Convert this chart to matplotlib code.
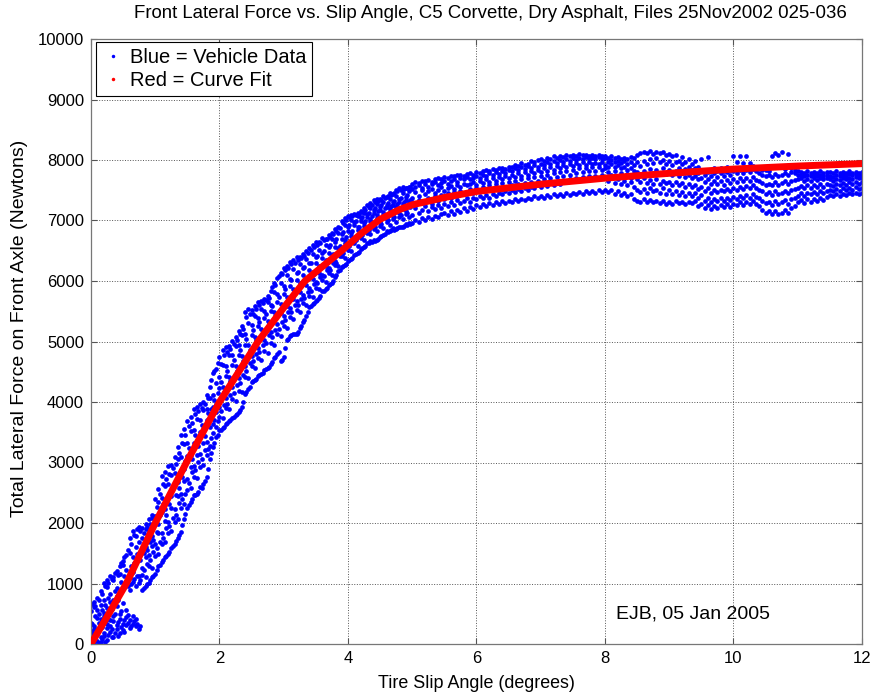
"""
Front lateral force vs. slip angle, C5 Corvette on dry asphalt.

Blue dots are the measured vehicle data, the red band is the curve fit.
"""

import matplotlib
matplotlib.use("Agg")
import matplotlib.pyplot as plt
from matplotlib.lines import Line2D

plt.rcParams["font.family"] = ["Liberation Sans", "DejaVu Sans"]

# ── Vehicle data: (slip deg, force N, force N, ...) ──
rise_rows = [
    (0.00, 0, 45, 130, 210, 350, 540),
    (0.05, 15, 95, 240, 300, 610, 700),
    (0.10, 50, 160, 200, 430, 560, 760),
    (0.15, 30, 120, 350, 420, 650, 880),
    (0.20, 140, 190, 460, 520, 720, 1010),
    (0.25, 60, 260, 330, 590, 940, 1060),
    (0.30, 200, 290, 400, 690, 820, 1130),
    (0.35, 120, 380, 460, 730, 1050, 1100),
    (0.40, 250, 310, 620, 800, 930, 1210),
    (0.45, 180, 420, 500, 870, 1150, 1290),
    (0.50, 230, 330, 680, 920, 1300, 1380),
    (0.55, 310, 440, 560, 1010, 1220, 1470),
    (0.60, 260, 390, 900, 1090, 1510, 1760),
    (0.65, 330, 470, 1020, 1190, 1440, 1870),
    (0.70, 290, 410, 960, 1380, 1600, 1790),
    (0.75, 250, 1010, 1120, 1500, 1680, 1930),
    (0.80, 890, 1140, 1260, 1580, 1760, 1920),
    (0.85, 960, 1100, 1430, 1610, 1900, 1980),
    (0.90, 1010, 1290, 1470, 1760, 1850, 2060),
    (0.95, 1110, 1250, 1620, 1790, 2080, 2140),
    (1.00, 1150, 1460, 1650, 1980, 2110, 2390),
    (1.05, 1290, 1480, 1840, 1990, 2340, 2560),
    (1.10, 1360, 1650, 1830, 2190, 2420, 2770),
    (1.15, 1440, 1680, 2040, 2230, 2610, 2850),
    (1.20, 1480, 1830, 2020, 2420, 2640, 2940),
    (1.25, 1580, 1860, 2240, 2440, 2800, 2960),
    (1.30, 1650, 2020, 2230, 2640, 2830, 3090),
    (1.35, 1760, 2070, 2450, 2670, 3060, 3250),
    (1.40, 1850, 2250, 2480, 2870, 3090, 3460),
    (1.45, 2060, 2320, 2690, 2900, 3300, 3550),
    (1.50, 2250, 2540, 2720, 3100, 3330, 3690),
    (1.55, 2350, 2580, 2930, 3120, 3520, 3760),
    (1.60, 2470, 2760, 2950, 3320, 3540, 3880),
    (1.65, 2480, 2740, 3130, 3350, 3720, 3910),
    (1.70, 2600, 2920, 3140, 3510, 3700, 3960),
    (1.75, 2650, 2960, 3330, 3520, 3870, 4000),
    (1.80, 2760, 3120, 3340, 3700, 3890, 4110),
    (1.85, 3050, 3270, 3580, 3720, 4060, 4250),
    (1.90, 3260, 3490, 3630, 3920, 4120, 4480),
    (1.95, 3420, 3580, 3840, 3970, 4310, 4550),
]

rise_extra_rows = [
    (0.02, 20, 180, 330, 660),
    (0.07, 70, 250, 470, 620),
    (0.12, 10, 340, 500, 730),
    (0.17, 90, 280, 560, 820),
    (0.22, 40, 370, 640, 960),
    (0.27, 150, 420, 760, 1010),
    (0.32, 110, 240, 580, 1070),
    (0.37, 190, 500, 880, 1170),
    (0.42, 140, 360, 720, 1140),
    (0.47, 280, 540, 1020, 1340),
    (0.52, 200, 400, 1120, 1440),
    (0.57, 350, 480, 960, 1560),
    (0.62, 300, 1000, 1290, 1650),
    (0.67, 380, 1080, 1340, 1800),
    (0.72, 330, 1120, 1490, 1900),
    (0.77, 290, 1050, 1390, 1860),
    (0.82, 930, 1220, 1500, 1840),
    (0.87, 990, 1330, 1560, 1930),
    (0.92, 1060, 1390, 1690, 1990),
    (0.97, 1130, 1520, 1720, 2100),
    (1.02, 1230, 1590, 1850, 2270),
    (1.07, 1310, 1690, 2130, 2480),
    (1.12, 1390, 1760, 2310, 2650),
    (1.17, 1460, 1910, 2140, 2730),
    (1.22, 1520, 1950, 2310, 2810),
    (1.27, 1620, 2090, 2590, 2910),
    (1.32, 1700, 2130, 2470, 2980),
    (1.37, 1800, 2330, 2580, 3150),
    (1.42, 1960, 2400, 2760, 3330),
    (1.47, 2150, 2480, 3020, 3460),
    (1.52, 2300, 2660, 3240, 3600),
    (1.57, 2400, 2840, 3060, 3650),
    (1.62, 2460, 2880, 3450, 3800),
    (1.67, 2520, 3010, 3280, 3850),
    (1.72, 2580, 3050, 3620, 3900),
    (1.77, 2700, 3200, 3440, 3960),
    (1.82, 2900, 3230, 3820, 4060),
    (1.87, 3150, 3400, 3880, 4370),
    (1.92, 3330, 3710, 4030, 4520),
    (1.97, 3460, 3690, 4150, 4640),
]

knee_rows = [
    (2.00, 3530, 3760, 3910, 4230, 4420, 4750),
    (2.05, 3570, 3730, 4080, 4250, 4610, 4860),
    (2.10, 3640, 3900, 4060, 4430, 4600, 4910),
    (2.15, 3680, 3880, 4250, 4420, 4780, 4930),
    (2.20, 3730, 4050, 4240, 4610, 4770, 5010),
    (2.25, 3790, 4020, 4420, 4600, 4930, 5080),
    (2.30, 3840, 4190, 4400, 4770, 4940, 5170),
    (2.35, 3920, 4170, 4580, 4760, 5100, 5250),
    (2.40, 4130, 4420, 4590, 4950, 5130, 5480),
    (2.45, 4220, 4400, 4780, 4940, 5310, 5530),
    (2.50, 4330, 4590, 4760, 5110, 5270, 5520),
    (2.55, 4360, 4560, 4930, 5080, 5420, 5580),
    (2.60, 4430, 4730, 4900, 5250, 5390, 5650),
    (2.65, 4460, 4700, 5060, 5210, 5540, 5670),
    (2.70, 4530, 4850, 5020, 5390, 5510, 5710),
    (2.75, 4560, 4810, 5200, 5340, 5650, 5760),
    (2.80, 4630, 4980, 5150, 5500, 5610, 5830),
    (2.85, 4720, 4950, 5340, 5480, 5810, 5970),
    (2.90, 4790, 5120, 5290, 5650, 5780, 6050),
    (2.95, 4670, 5090, 5470, 5620, 5970, 6140),
    (3.00, 4740, 5260, 5420, 5790, 5920, 6210),
    (3.05, 5020, 5230, 5590, 5740, 6100, 6240),
    (3.10, 5090, 5400, 5550, 5910, 6040, 6310),
    (3.15, 5120, 5370, 5710, 5860, 6200, 6340),
    (3.20, 5130, 5520, 5670, 6010, 6130, 6390),
    (3.25, 5220, 5480, 5820, 5960, 6280, 6400),
    (3.30, 5330, 5630, 5770, 6100, 6210, 6450),
    (3.35, 5420, 5600, 5930, 6050, 6360, 6490),
    (3.40, 5570, 5760, 5880, 6190, 6300, 6550),
    (3.45, 5620, 5730, 6040, 6150, 6450, 6590),
    (3.50, 5670, 5890, 5990, 6290, 6390, 6650),
    (3.55, 5720, 5860, 6140, 6250, 6520, 6640),
    (3.60, 5830, 6020, 6100, 6380, 6470, 6710),
    (3.65, 5860, 5990, 6240, 6340, 6600, 6700),
    (3.70, 5930, 6140, 6210, 6470, 6560, 6760),
    (3.75, 5960, 6100, 6350, 6430, 6700, 6790),
    (3.80, 6070, 6260, 6330, 6570, 6650, 6860),
    (3.85, 6160, 6250, 6480, 6550, 6800, 6890),
    (3.90, 6230, 6410, 6480, 6700, 6780, 6990),
    (3.95, 6260, 6380, 6620, 6680, 6930, 7040),
    (4.00, 6330, 6520, 6600, 6830, 6890, 7080),
    (4.05, 6360, 6490, 6740, 6800, 7010, 7090),
    (4.10, 6430, 6620, 6700, 6920, 6970, 7110),
    (4.15, 6460, 6580, 6840, 6890, 7070, 7120),
    (4.20, 6530, 6710, 6790, 6990, 7040, 7160),
    (4.25, 6560, 6680, 6910, 6960, 7130, 7200),
    (4.30, 6630, 6800, 6870, 7060, 7110, 7250),
    (4.35, 6660, 6770, 6990, 7030, 7210, 7290),
    (4.40, 6670, 6860, 6930, 7120, 7180, 7340),
    (4.45, 6680, 6820, 7040, 7090, 7270, 7350),
    (4.50, 6730, 6910, 6980, 7170, 7220, 7360),
    (4.55, 6760, 6870, 7090, 7140, 7310, 7400),
    (4.60, 6820, 6970, 7030, 7220, 7260, 7390),
    (4.65, 6830, 6930, 7140, 7190, 7360, 7450),
    (4.70, 6870, 7020, 7080, 7260, 7300, 7440),
    (4.75, 6860, 6980, 7180, 7230, 7400, 7500),
    (4.80, 6900, 7060, 7120, 7310, 7350, 7540),
    (4.85, 6900, 7020, 7220, 7270, 7450, 7550),
    (4.90, 6940, 7100, 7160, 7340, 7390, 7540),
    (4.95, 6960, 7060, 7260, 7310, 7480, 7560),
]

knee_extra_rows = [
    (2.02, 3540, 3850, 4330, 4620),
    (2.07, 3590, 3950, 4170, 4780),
    (2.12, 3650, 3970, 4520, 4820),
    (2.17, 3700, 4120, 4350, 4880),
    (2.22, 3750, 4150, 4690, 4960),
    (2.27, 3800, 4280, 4520, 5020),
    (2.32, 3870, 4310, 4860, 5120),
    (2.37, 4000, 4450, 4680, 5200),
    (2.42, 4160, 4510, 5040, 5400),
    (2.47, 4250, 4640, 4860, 5460),
    (2.52, 4340, 4680, 5190, 5450),
    (2.57, 4380, 4800, 5020, 5540),
    (2.62, 4440, 4830, 5330, 5600),
    (2.67, 4480, 4950, 5170, 5630),
    (2.72, 4540, 4980, 5460, 5680),
    (2.77, 4580, 5100, 5300, 5720),
    (2.82, 4660, 5080, 5580, 5900),
    (2.87, 4740, 5190, 5420, 5940),
    (2.92, 4820, 5200, 5730, 6080),
    (2.97, 4700, 5330, 5560, 6120),
    (3.02, 4900, 5360, 5870, 6180),
    (3.07, 5040, 5480, 5680, 6220),
    (3.12, 5100, 5480, 6020, 6280),
    (3.17, 5120, 5610, 5800, 6300),
    (3.22, 5160, 5610, 6150, 6350),
    (3.27, 5260, 5700, 5920, 6380),
    (3.32, 5360, 5720, 6230, 6420),
    (3.37, 5480, 5820, 6030, 6460),
    (3.42, 5580, 5840, 6300, 6520),
    (3.47, 5630, 5950, 6120, 6560),
    (3.52, 5690, 5960, 6420, 6600),
    (3.57, 5760, 6060, 6230, 6620),
    (3.62, 5840, 6080, 6500, 6680),
    (3.67, 5880, 6180, 6320, 6690),
    (3.72, 5950, 6190, 6600, 6730),
    (3.77, 6000, 6300, 6450, 6770),
    (3.82, 6100, 6300, 6690, 6820),
    (3.87, 6180, 6420, 6580, 6870),
    (3.92, 6240, 6470, 6810, 6960),
    (3.97, 6280, 6560, 6720, 7000),
    (4.02, 6340, 6580, 6920, 7050),
    (4.07, 6380, 6680, 6820, 7080),
    (4.12, 6440, 6680, 6990, 7090),
    (4.17, 6480, 6780, 6900, 7110),
    (4.22, 6540, 6760, 7060, 7140),
    (4.27, 6580, 6870, 6990, 7180),
    (4.32, 6630, 6840, 7130, 7220),
    (4.37, 6650, 6940, 7080, 7260),
    (4.42, 6660, 6900, 7200, 7300),
    (4.47, 6690, 6990, 7150, 7320),
    (4.52, 6740, 6950, 7250, 7340),
    (4.57, 6780, 7050, 7200, 7370),
    (4.62, 6810, 7000, 7290, 7400),
    (4.67, 6840, 7100, 7240, 7420),
    (4.72, 6850, 7050, 7330, 7460),
    (4.77, 6870, 7150, 7270, 7480),
    (4.82, 6890, 7090, 7380, 7510),
    (4.87, 6910, 7190, 7300, 7520),
    (4.92, 6930, 7120, 7420, 7530),
    (4.97, 6950, 7230, 7340, 7550),
]

plateau_rows = [
    (5.00, 6960, 7090, 7300, 7380, 7520, 7610),
    (5.05, 7000, 7210, 7260, 7470, 7560, 7640),
    (5.10, 6980, 7130, 7340, 7410, 7590, 7620),
    (5.15, 7040, 7180, 7290, 7500, 7540, 7660),
    (5.20, 7010, 7240, 7330, 7440, 7610, 7650),
    (5.25, 7060, 7150, 7370, 7480, 7560, 7670),
    (5.30, 7030, 7220, 7280, 7520, 7600, 7640),
    (5.35, 7080, 7190, 7400, 7460, 7630, 7680),
    (5.40, 7050, 7260, 7320, 7500, 7580, 7700),
    (5.45, 7100, 7210, 7420, 7550, 7620, 7690),
    (5.50, 7120, 7280, 7360, 7480, 7660, 7720),
    (5.55, 7090, 7240, 7450, 7530, 7600, 7710),
    (5.60, 7150, 7300, 7380, 7570, 7650, 7740),
    (5.65, 7110, 7260, 7470, 7520, 7690, 7730),
    (5.70, 7170, 7340, 7410, 7590, 7640, 7750),
    (5.75, 7140, 7290, 7490, 7550, 7700, 7760),
    (5.80, 7200, 7330, 7430, 7610, 7680, 7740),
    (5.85, 7160, 7370, 7460, 7580, 7720, 7770),
    (5.90, 7220, 7310, 7520, 7600, 7690, 7780),
    (5.95, 7190, 7380, 7450, 7640, 7710, 7760),
    (6.00, 7250, 7350, 7540, 7590, 7740, 7800),
    (6.05, 7230, 7400, 7480, 7650, 7700, 7790),
    (6.10, 7270, 7370, 7560, 7620, 7760, 7810),
    (6.15, 7240, 7420, 7500, 7680, 7730, 7830),
    (6.20, 7290, 7380, 7580, 7640, 7780, 7820),
    (6.25, 7260, 7440, 7520, 7700, 7750, 7850),
    (6.30, 7300, 7410, 7600, 7660, 7800, 7840),
    (6.35, 7280, 7460, 7540, 7720, 7770, 7860),
    (6.40, 7320, 7430, 7620, 7680, 7820, 7870),
    (6.45, 7290, 7480, 7560, 7740, 7790, 7850),
    (6.50, 7330, 7450, 7640, 7700, 7840, 7890),
    (6.55, 7310, 7500, 7580, 7760, 7810, 7880),
    (6.60, 7350, 7470, 7660, 7720, 7860, 7910),
    (6.65, 7320, 7520, 7600, 7780, 7830, 7900),
    (6.70, 7360, 7490, 7680, 7740, 7880, 7950),
    (6.75, 7340, 7540, 7620, 7800, 7850, 7920),
    (6.80, 7380, 7510, 7700, 7760, 7900, 7940),
    (6.85, 7350, 7560, 7640, 7820, 7870, 7980),
    (6.90, 7400, 7530, 7720, 7780, 7920, 7960),
    (6.95, 7370, 7580, 7660, 7840, 7890, 8000),
    (7.00, 7410, 7550, 7740, 7800, 7940, 8020),
    (7.05, 7380, 7600, 7680, 7860, 7910, 7990),
    (7.10, 7420, 7570, 7760, 7820, 7960, 8040),
    (7.15, 7390, 7620, 7700, 7880, 7930, 8010),
    (7.20, 7430, 7590, 7780, 7840, 7980, 8060),
    (7.25, 7400, 7640, 7720, 7900, 7950, 8030),
    (7.30, 7440, 7610, 7800, 7860, 8000, 8070),
    (7.35, 7410, 7660, 7740, 7920, 7970, 8050),
    (7.40, 7450, 7630, 7820, 7880, 8020, 8080),
    (7.45, 7420, 7680, 7760, 7940, 7990, 8060),
    (7.50, 7460, 7650, 7840, 7900, 8030, 8090),
    (7.55, 7430, 7700, 7780, 7950, 8000, 8070),
    (7.60, 7470, 7670, 7860, 7910, 8040, 8100),
    (7.65, 7440, 7720, 7800, 7960, 8010, 8080),
    (7.70, 7480, 7690, 7870, 7920, 8050, 8090),
    (7.75, 7450, 7730, 7810, 7970, 8020, 8060),
    (7.80, 7490, 7700, 7880, 7930, 8040, 8080),
    (7.85, 7460, 7740, 7820, 7950, 8010, 8070),
    (7.90, 7500, 7710, 7890, 7940, 8050, 8090),
    (7.95, 7470, 7750, 7830, 7960, 8020, 8060),
    (8.00, 7510, 7720, 7870, 7920, 8030, 8070),
    (8.05, 7470, 7650, 7800, 7890, 7960, 8040),
    (8.10, 7500, 7700, 7760, 7930, 8000, 8060),
    (8.15, 7440, 7620, 7820, 7880, 7970, 8030),
    (8.20, 7490, 7680, 7740, 7910, 7990, 8050),
    (8.25, 7420, 7600, 7790, 7860, 7950, 8020),
    (8.30, 7460, 7660, 7720, 7890, 7980, 8040),
    (8.35, 7400, 7580, 7770, 7840, 7930, 8010),
    (8.40, 7440, 7640, 7700, 7870, 7960, 8050),
    (8.45, 7360, 7560, 7750, 7820, 7920, 8030),
    (8.50, 7330, 7500, 7680, 7800, 7960, 8080),
    (8.55, 7300, 7470, 7630, 7760, 7900, 8110),
    (8.60, 7350, 7520, 7700, 7820, 7990, 8140),
    (8.65, 7310, 7460, 7620, 7770, 7930, 8120),
    (8.70, 7340, 7540, 7670, 7850, 8010, 8150),
    (8.75, 7300, 7480, 7610, 7790, 7950, 8100),
    (8.80, 7330, 7510, 7690, 7840, 8030, 8140),
    (8.85, 7290, 7450, 7600, 7780, 7970, 8110),
    (8.90, 7320, 7530, 7660, 7860, 8000, 8130),
    (8.95, 7280, 7440, 7620, 7770, 7940, 8080),
    (9.00, 7310, 7500, 7640, 7830, 7990, 8100),
    (9.05, 7280, 7430, 7590, 7750, 7920, 8060),
    (9.10, 7320, 7480, 7630, 7810, 7960, 8080),
    (9.15, 7290, 7420, 7580, 7740, 7870, 7990),
    (9.20, 7300, 7470, 7620, 7780, 7930, 8050),
    (9.25, 7280, 7400, 7560, 7720, 7850, 7970),
    (9.30, 7310, 7450, 7600, 7760, 7890, 8020),
    (9.35, 7290, 7410, 7550, 7700, 7830, 7940),
    (9.40, 7330, 7460, 7590, 7740, 7870, 7990),
    (9.45, 7240, 7380, 7520, 7680, 7790, 7880),
    (9.50, 7280, 7420, 7560, 7710, 7830, 8010),
    (9.55, 7200, 7330, 7490, 7640, 7760, 7840),
    (9.60, 7250, 7380, 7530, 7680, 7800, 8050),
    (9.65, 7190, 7310, 7460, 7610, 7740, 7830),
    (9.70, 7240, 7350, 7500, 7650, 7780, 7860),
    (9.75, 7210, 7320, 7470, 7600, 7720, 7810),
    (9.80, 7260, 7370, 7510, 7660, 7790, 7870),
    (9.85, 7220, 7330, 7480, 7590, 7730, 7820),
    (9.90, 7270, 7380, 7520, 7670, 7800, 7880),
    (9.95, 7230, 7340, 7490, 7620, 7750, 7840),
    (10.00, 7280, 7390, 7540, 7680, 7820, 8060),
    (10.05, 7250, 7360, 7510, 7640, 7780, 7960),
    (10.10, 7300, 7410, 7560, 7700, 7830, 8070),
    (10.15, 7260, 7370, 7520, 7650, 7790, 7950),
    (10.20, 7310, 7420, 7570, 7710, 7840, 8060),
    (10.25, 7270, 7380, 7530, 7660, 7800, 7950),
    (10.30, 7320, 7430, 7580, 7720, 7850, 7900),
    (10.35, 7280, 7390, 7540, 7670, 7810, 7870),
    (10.40, 7240, 7370, 7510, 7650, 7790, 7860),
    (10.45, 7180, 7330, 7480, 7620, 7760, 7830),
    (10.50, 7120, 7290, 7440, 7590, 7730, 7840),
    (10.55, 7150, 7310, 7470, 7610, 7750, 7820),
    (10.60, 7110, 7260, 7420, 7580, 7720, 8060),
    (10.65, 7160, 7320, 7480, 7630, 7770, 8120),
    (10.70, 7100, 7270, 7430, 7590, 7740, 8090),
    (10.75, 7130, 7300, 7460, 7620, 7760, 8140),
    (10.80, 7180, 7340, 7490, 7650, 7790, 7850),
    (10.85, 7120, 7280, 7450, 7600, 7750, 8100),
    (10.90, 7200, 7350, 7500, 7660, 7800, 7860),
    (10.95, 7240, 7370, 7520, 7670, 7790, 7830),
    (11.00, 7300, 7410, 7540, 7680, 7760, 7810),
    (11.05, 7340, 7450, 7570, 7700, 7750, 7800),
    (11.10, 7290, 7400, 7530, 7650, 7740, 7790),
    (11.15, 7350, 7460, 7580, 7690, 7760, 7810),
    (11.20, 7310, 7430, 7540, 7660, 7730, 7780),
    (11.25, 7360, 7470, 7590, 7710, 7750, 7800),
    (11.30, 7330, 7440, 7550, 7670, 7740, 7790),
    (11.35, 7380, 7480, 7600, 7700, 7760, 7810),
    (11.40, 7340, 7450, 7560, 7680, 7730, 7780),
    (11.45, 7390, 7490, 7610, 7710, 7750, 7800),
    (11.50, 7420, 7510, 7590, 7680, 7740, 7800),
    (11.55, 7400, 7480, 7570, 7660, 7720, 7780),
    (11.60, 7430, 7520, 7610, 7690, 7750, 7810),
    (11.65, 7410, 7490, 7580, 7670, 7730, 7790),
    (11.70, 7440, 7530, 7620, 7700, 7760, 7800),
    (11.75, 7420, 7500, 7590, 7680, 7740, 7780),
    (11.80, 7450, 7540, 7630, 7710, 7770, 7810),
    (11.85, 7430, 7510, 7600, 7690, 7750, 7790),
    (11.90, 7460, 7550, 7640, 7720, 7770, 7800),
    (11.95, 7440, 7520, 7610, 7700, 7750, 7790),
    (12.00, 7460, 7540, 7630, 7710, 7760, 7800),
]

# ── Curve fit ─────────────────────────────────────────────────────
fit_slip = [0.0, 0.25, 0.55, 1.0, 1.5, 2.0, 2.6, 3.0, 3.33, 3.9, 4.2,
            4.5, 4.8, 5.0, 5.5, 6.0, 7.0, 8.0, 9.0, 10.0, 11.0, 12.0]
fit_force = [0, 450, 1000, 2000, 3030, 4000, 5000, 5560, 6000, 6500, 6780,
             7020, 7180, 7260, 7380, 7480, 7600, 7700, 7780, 7850, 7900, 7940]

TITLE = ("Front Lateral Force vs. Slip Angle, C5 Corvette, Dry Asphalt, "
         "Files 25Nov2002 025-036")
BLUE = "#0000ff"
RED = "#ff0000"


def flatten(rows):
    xs, ys = [], []
    for row in rows:
        for f in row[1:]:
            xs.append(row[0])
            ys.append(f)
    return xs, ys


def main() -> None:
    fig = plt.figure(figsize=(8.73, 6.93), dpi=100)
    ax = fig.add_axes([91 / 873, 49 / 693, 771 / 873, 605 / 693])

    # vehicle data
    for rows in (rise_rows, rise_extra_rows, knee_rows, knee_extra_rows,
                 plateau_rows):
        xs, ys = flatten(rows)
        ax.plot(xs, ys, ls="none", marker="o", ms=3.4, mew=0,
                color=BLUE, zorder=2)

    # curve fit
    ax.plot(fit_slip, fit_force, color=RED, lw=5, solid_capstyle="round",
            solid_joinstyle="round", zorder=3)

    ax.set_xlim(0, 12)
    ax.set_ylim(0, 10000)
    ax.set_xticks(range(0, 13, 2))
    ax.set_yticks(range(0, 10001, 1000))
    ax.grid(True, ls=":", lw=0.7, color="#555555")
    ax.tick_params(direction="in", length=4, width=0.8, top=True, right=True,
                   labelsize=12, pad=5, color="#555555")
    for sp in ax.spines.values():
        sp.set_color("#777777")
        sp.set_linewidth(0.9)

    # legend with dot markers
    handles = [
        Line2D([], [], ls="none", marker="o", ms=2.5, mew=0, color=BLUE,
               label="Blue = Vehicle Data"),
        Line2D([], [], ls="none", marker="o", ms=2.5, mew=0, color=RED,
               label="Red = Curve Fit"),
    ]
    leg = ax.legend(handles=handles, loc="upper left",
                    bbox_to_anchor=(0.007, 0.995), borderaxespad=0,
                    fontsize=14.5, fancybox=False, framealpha=1,
                    edgecolor="black", handlelength=1.0, handletextpad=0.35,
                    borderpad=0.3, labelspacing=0.2)
    leg.get_frame().set_linewidth(0.8)

    ax.text(8.17, 500, "EJB, 05 Jan 2005", fontsize=14, va="center",
            ha="left")

    fig.text(490 / 873, 1 - 14 / 693, TITLE, fontsize=13.4, ha="center",
             va="center")
    fig.text(476 / 873, 10 / 693, "Tire Slip Angle (degrees)", fontsize=12.9,
             ha="center", va="center")
    fig.text(20 / 873, 1 - 328 / 693,
             "Total Lateral Force on Front Axle (Newtons)", fontsize=14,
             rotation=90, ha="center", va="center")

    fig.savefig("out.png", dpi=100, facecolor="white")


if __name__ == "__main__":
    main()
